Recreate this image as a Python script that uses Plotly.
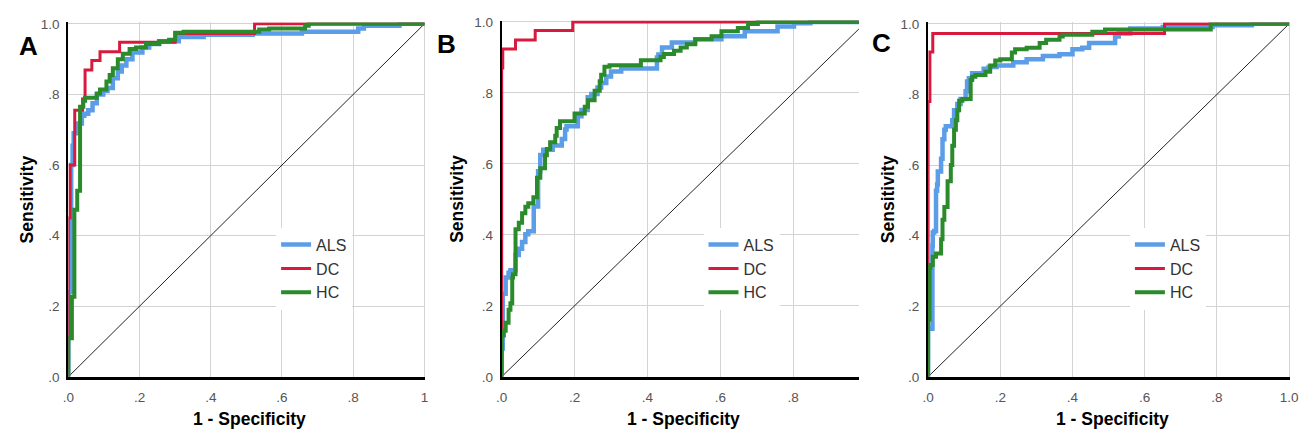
import plotly.graph_objects as go

# ---------------- data ----------------
series_names = ["ALS", "DC", "HC"]
series_colors = ["#5b9de6", "#d71a3d", "#2b8a2b"]
series_widths = [4.5, 3, 4]

# Panel A
a_als_x = [0, 0, 0.008, 0.008, 0.012, 0.015, 0.025, 0.038, 0.045, 0.056, 0.068, 0.08, 0.098, 0.11, 0.125, 0.139, 0.15, 0.163, 0.18, 0.208, 0.227, 0.255, 0.31, 0.38, 0.518, 0.656, 0.814, 0.83, 0.93, 1.0]
a_als_y = [0, 0.22, 0.24, 0.55, 0.6, 0.655, 0.69, 0.718, 0.74, 0.745, 0.755, 0.775, 0.8, 0.81, 0.818, 0.846, 0.865, 0.882, 0.9, 0.919, 0.933, 0.943, 0.951, 0.963, 0.969, 0.973, 0.978, 0.987, 0.995, 1.0]
a_dc_x = [0, 0, 0.005, 0.005, 0.018, 0.018, 0.022, 0.04, 0.04, 0.047, 0.047, 0.066, 0.066, 0.089, 0.089, 0.144, 0.144, 0.30, 0.30, 0.523, 0.523, 1.0]
a_dc_y = [0, 0.45, 0.45, 0.6, 0.6, 0.62, 0.755, 0.755, 0.787, 0.787, 0.869, 0.869, 0.896, 0.896, 0.921, 0.921, 0.948, 0.948, 0.973, 0.973, 1.0, 1.0]
a_hc_x = [0, 0, 0.01, 0.01, 0.017, 0.017, 0.025, 0.033, 0.033, 0.042, 0.047, 0.08, 0.089, 0.107, 0.116, 0.125, 0.139, 0.153, 0.172, 0.19, 0.218, 0.255, 0.283, 0.3, 0.324, 0.536, 0.564, 0.665, 0.675, 0.9, 1.0]
a_hc_y = [0, 0.109, 0.109, 0.227, 0.227, 0.328, 0.473, 0.527, 0.673, 0.765, 0.782, 0.791, 0.803, 0.814, 0.837, 0.855, 0.874, 0.9, 0.915, 0.929, 0.933, 0.943, 0.951, 0.955, 0.975, 0.978, 0.984, 0.987, 0.995, 1.0, 1.0]

# Panel B
b_als_x = [0, 0.003, 0.003, 0.011, 0.019, 0.024, 0.038, 0.047, 0.056, 0.065, 0.073, 0.088, 0.088, 0.1, 0.106, 0.114, 0.14, 0.165, 0.174, 0.178, 0.209, 0.219, 0.236, 0.246, 0.263, 0.273, 0.287, 0.3, 0.328, 0.364, 0.426, 0.43, 0.44, 0.467, 0.477, 0.531, 0.603, 0.667, 0.757, 0.802, 0.847, 0.9, 1.0]
b_als_y = [0, 0.08, 0.217, 0.234, 0.28, 0.293, 0.3, 0.343, 0.361, 0.38, 0.402, 0.41, 0.47, 0.48, 0.579, 0.625, 0.64, 0.652, 0.67, 0.697, 0.706, 0.734, 0.752, 0.788, 0.797, 0.815, 0.828, 0.846, 0.86, 0.869, 0.869, 0.9, 0.908, 0.928, 0.942, 0.942, 0.951, 0.96, 0.974, 0.987, 0.996, 1.0, 1.0]
b_dc_x = [0, 0, 0.003, 0.006, 0.038, 0.038, 0.092, 0.092, 0.195, 0.195, 1.0]
b_dc_y = [0, 0.84, 0.87, 0.924, 0.924, 0.949, 0.949, 0.976, 0.976, 1.0, 1.0]
b_hc_x = [0, 0, 0.006, 0.011, 0.019, 0.024, 0.029, 0.031, 0.038, 0.038, 0.047, 0.056, 0.065, 0.073, 0.087, 0.097, 0.106, 0.119, 0.124, 0.133, 0.147, 0.151, 0.16, 0.165, 0.2, 0.21, 0.228, 0.237, 0.255, 0.269, 0.273, 0.282, 0.296, 0.31, 0.382, 0.391, 0.436, 0.445, 0.473, 0.491, 0.508, 0.531, 0.576, 0.603, 0.648, 0.676, 0.703, 0.712, 1.0]
b_hc_y = [0, 0.089, 0.116, 0.13, 0.152, 0.189, 0.207, 0.28, 0.289, 0.407, 0.416, 0.434, 0.461, 0.479, 0.489, 0.506, 0.561, 0.588, 0.624, 0.642, 0.661, 0.679, 0.701, 0.72, 0.72, 0.742, 0.742, 0.761, 0.779, 0.806, 0.833, 0.851, 0.874, 0.878, 0.878, 0.892, 0.892, 0.901, 0.91, 0.919, 0.928, 0.937, 0.951, 0.96, 0.974, 0.983, 0.994, 1.0, 1.0]

# Panel C
c_als_x = [0, 0, 0.012, 0.013, 0.017, 0.022, 0.025, 0.027, 0.036, 0.04, 0.045, 0.049, 0.067, 0.072, 0.081, 0.09, 0.104, 0.108, 0.113, 0.122, 0.154, 0.168, 0.19, 0.236, 0.273, 0.318, 0.364, 0.4, 0.427, 0.446, 0.518, 0.528, 0.56, 0.65, 0.788, 0.897, 0.92, 1.0]
c_als_y = [0, 0.1, 0.136, 0.372, 0.409, 0.413, 0.527, 0.545, 0.582, 0.618, 0.673, 0.7, 0.71, 0.727, 0.755, 0.773, 0.787, 0.809, 0.837, 0.846, 0.86, 0.873, 0.878, 0.882, 0.891, 0.9, 0.909, 0.914, 0.928, 0.932, 0.946, 0.964, 0.973, 0.987, 0.991, 0.996, 1.0, 1.0]
c_dc_x = [0, 0, 0.005, 0.005, 0.013, 0.013, 0.655, 0.655, 1.0]
c_dc_y = [0, 0.78, 0.78, 0.92, 0.92, 0.973, 0.973, 1.0, 1.0]
c_hc_x = [0, 0, 0.004, 0.006, 0.013, 0.022, 0.036, 0.04, 0.045, 0.054, 0.063, 0.067, 0.072, 0.077, 0.081, 0.086, 0.095, 0.118, 0.122, 0.131, 0.159, 0.172, 0.186, 0.2, 0.232, 0.241, 0.273, 0.309, 0.327, 0.364, 0.373, 0.455, 0.49, 0.518, 0.783, 0.783, 1.0]
c_hc_y = [0, 0.108, 0.162, 0.308, 0.317, 0.34, 0.349, 0.39, 0.445, 0.481, 0.554, 0.6, 0.655, 0.7, 0.727, 0.755, 0.782, 0.787, 0.841, 0.85, 0.855, 0.864, 0.882, 0.896, 0.9, 0.919, 0.928, 0.932, 0.946, 0.955, 0.964, 0.969, 0.978, 0.984, 0.984, 1.0, 1.0]

ref_x = [0, 1]
ref_y = [0, 1]

panel_letters = ["A", "B", "C"]
x_tick_vals = [0, 0.2, 0.4, 0.6, 0.8, 1.0]
x_tick_text_a = [".0", ".2", ".4", ".6", ".8", "1"]
x_tick_text_b = [".0", ".2", ".4", ".6", ".8", "1"]
x_tick_text_c = [".0", ".2", ".4", ".6", ".8", "1.0"]
y_tick_vals = [0, 0.2, 0.4, 0.6, 0.8, 1.0]
y_tick_text = [".0", ".2", ".4", ".6", ".8", "1.0"]
x_title = "1 - Specificity"
y_title = "Sensitivity"

panels = [
    [(a_als_x, a_als_y), (a_dc_x, a_dc_y), (a_hc_x, a_hc_y)],
    [(b_als_x, b_als_y), (b_dc_x, b_dc_y), (b_hc_x, b_hc_y)],
    [(c_als_x, c_als_y), (c_dc_x, c_dc_y), (c_hc_x, c_hc_y)],
]
x_tick_texts = [x_tick_text_a, x_tick_text_b, x_tick_text_c]

# ---------------- layout geometry (pixels) ----------------
W, H = 1316, 439
plot_px = [(63, 424, 17, 383), (501, 862, 15, 383), (932, 1298, 17, 383)]
x_ranges = [[0, 1.003], [0, 0.98], [0, 1.003]]
legend_px = [(273, 229), (705, 229), (1136, 229)]
letter_px = [(23, 41), (445, 39), (885, 38)]
ytitle_px = [21, 455, 891]

FONT = "Liberation Sans, Arial, sans-serif"

fig = go.Figure()
for p, series in enumerate(panels):
    suffix = "" if p == 0 else str(p + 1)
    legend_id = "legend" + suffix
    fig.add_trace(go.Scatter(x=ref_x, y=ref_y, mode="lines",
                             line=dict(color="#222222", width=1),
                             xaxis="x" + suffix, yaxis="y" + suffix,
                             showlegend=False, hoverinfo="skip"))
    for s, (xs, ys) in enumerate(series):
        assert len(xs) == len(ys)
        fig.add_trace(go.Scatter(x=xs, y=ys, mode="lines", name=series_names[s],
                                 line=dict(color=series_colors[s], width=series_widths[s], shape="vh"),
                                 xaxis="x" + suffix, yaxis="y" + suffix,
                                 legend=legend_id))

layout = dict(width=W, height=H, margin=dict(l=0, r=0, t=0, b=0),
              paper_bgcolor="white", plot_bgcolor="white",
              font=dict(family=FONT, color="#555555"))
annotations = []
for p in range(3):
    suffix = "" if p == 0 else str(p + 1)
    x0, x1, ytop, ybot = plot_px[p]
    layout["xaxis" + suffix] = dict(
        domain=[x0 / W, x1 / W], range=x_ranges[p], anchor="y" + suffix,
        tickvals=x_tick_vals, ticktext=x_tick_texts[p],
        showgrid=True, gridcolor="#d3d3d3", gridwidth=1, zeroline=False,
        showline=True, linecolor="black", linewidth=3,
        ticks="outside", ticklen=6, tickcolor="rgba(0,0,0,0)",
        tickfont=dict(size=13.5, color="#555555", family=FONT), fixedrange=True)
    layout["yaxis" + suffix] = dict(
        domain=[(H - ybot) / H, (H - ytop) / H], range=[0, 1.004], anchor="x" + suffix,
        tickvals=y_tick_vals, ticktext=y_tick_text,
        showgrid=True, gridcolor="#d3d3d3", gridwidth=1, zeroline=False,
        showline=True, linecolor="black", linewidth=2,
        ticks="outside", ticklen=4, tickcolor="rgba(0,0,0,0)",
        tickfont=dict(size=13.5, color="#555555", family=FONT), fixedrange=True)
    lx, ly = legend_px[p]
    layout["legend" + suffix] = dict(
        x=lx / W, y=(H - ly) / H, xanchor="left", yanchor="top",
        bgcolor="white", borderwidth=0, itemwidth=30, tracegroupgap=0,
        font=dict(size=16, color="#333333", family=FONT))
    annotations.append(dict(text="<b>%s</b>" % panel_letters[p], x=letter_px[p][0] / W,
                            y=(H - letter_px[p][1]) / H, xref="paper", yref="paper",
                            showarrow=False, xanchor="center", yanchor="middle",
                            font=dict(size=26, color="black", family=FONT)))
    annotations.append(dict(text="<b>%s</b>" % x_title, x=((x0 + x1) / 2 + 3) / W,
                            y=(H - 427) / H, xref="paper", yref="paper",
                            showarrow=False, xanchor="center", yanchor="middle",
                            font=dict(size=17.5, color="black", family=FONT)))
    annotations.append(dict(text="<b>%s</b>" % y_title, x=ytitle_px[p] / W,
                            y=(H - (ytop + ybot) / 2) / H, xref="paper", yref="paper",
                            showarrow=False, xanchor="center", yanchor="middle", textangle=-90,
                            font=dict(size=17.5, color="black", family=FONT)))
layout["annotations"] = annotations
fig.update_layout(**layout)
fig.write_html("out.html",
               config={"displayModeBar": False, "staticPlot": True},
               post_script="document.body.style.margin='0';document.body.style.overflow='hidden';")
